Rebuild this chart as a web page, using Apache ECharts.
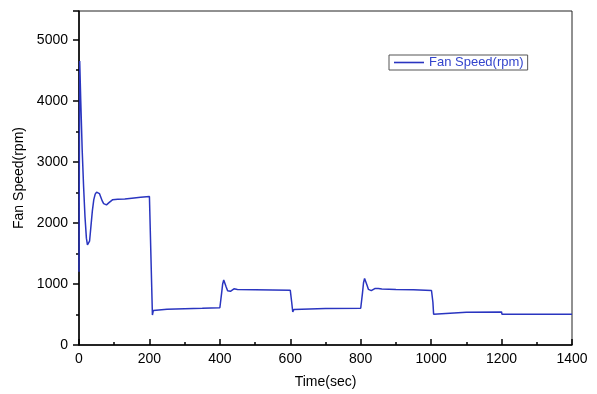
<!DOCTYPE html>
<html>
<head>
<meta charset="utf-8">
<script src="https://cdn.jsdelivr.net/npm/echarts@6/dist/echarts.min.js"></script>
<style>html,body{margin:0;padding:0;background:#fff;}#c{width:597px;height:394px;}</style>
</head>
<body>
<div id="c"></div>
<script>
var seriesName = 'Fan Speed(rpm)';
var xAxisTitle = 'Time(sec)';
var yAxisTitle = 'Fan Speed(rpm)';
var timeSec = [0,2,5,9,13,17,21,24,27,30,34,38,42,46,50,54,58,62,66,70,74,78,82,86,90,95,100,110,130,150,175,200,201,
  208.5,211,215,250,300,350,400,402,405,408,411,414,418,422,426,430,435,440,445,450,500,550,600,601,
  604,607,610,614,700,800,802,805,808,811,814,818,822,826,830,835,840,845,850,860,900,950,1001,1003,
  1005,1007,1010,1100,1200,1201,1400];
var fanSpeed = [1200,4650,4000,3200,2600,2100,1750,1640,1630,1700,1950,2200,2380,2470,2505,2510,2480,2420,2360,2315,2295,2295,2310,2335,2360,2378,2385,2388,2392,2405,2420,2432,2432,
  490,565,580,585,592,600,610,640,850,1000,1065,1040,950,890,875,880,905,920,918,910,905,900,895,890,
  700,540,580,592,597,602,630,850,1020,1090,1070,980,910,888,890,910,925,928,925,918,910,905,893,890,
  700,505,535,537,542,505,502];

var chart = echarts.init(document.getElementById('c'), null, {renderer:'canvas'});
var data = timeSec.map(function(t,i){return [t, fanSpeed[i]];});
var font = 'Liberation Sans, Arial, sans-serif';
function plain(v){return String(v);}
chart.setOption({
  animation:false,
  backgroundColor:'#fff',
  grid:{left:79,right:25,top:11,bottom:49,show:true,borderColor:'#222',borderWidth:1,backgroundColor:'transparent'},
  legend:{
    show:true,left:389,top:55,padding:[1,4,1,5],
    borderColor:'#555',borderWidth:1,borderRadius:0,
    icon:'rect',itemWidth:30,itemHeight:1.6,itemGap:4,
    itemStyle:{color:'#2a35c0',borderWidth:0},
    textStyle:{color:'#3344cc',fontSize:13,fontFamily:font,lineHeight:13},
    data:[seriesName]
  },
  xAxis:{
    type:'value',min:0,max:1400,interval:200,
    name:xAxisTitle,nameLocation:'middle',nameGap:30,
    nameTextStyle:{color:'#000',fontSize:14,fontFamily:font},
    axisLine:{show:true,lineStyle:{color:'#000',width:1.5}},
    axisTick:{show:true,inside:true,length:6,lineStyle:{color:'#000',width:1.5}},
    minorTick:{show:true,splitNumber:2,length:3,lineStyle:{color:'#000',width:1.5}},
    axisLabel:{color:'#000',fontSize:14,fontFamily:font,margin:7,formatter:plain},
    splitLine:{show:false}
  },
  yAxis:{
    type:'value',min:0,max:5470,interval:1000,
    name:yAxisTitle,nameLocation:'middle',nameGap:51,nameRotate:90,
    nameTextStyle:{color:'#000',fontSize:14,fontFamily:font},
    axisLine:{show:true,lineStyle:{color:'#000',width:1.5}},
    axisTick:{show:true,inside:false,length:6,lineStyle:{color:'#000',width:1.5}},
    minorTick:{show:true,splitNumber:2,length:3,lineStyle:{color:'#000',width:1.5}},
    axisLabel:{color:'#000',fontSize:14,fontFamily:font,margin:11,showMaxLabel:false,formatter:plain},
    splitLine:{show:false}
  },
  series:[{
    name:seriesName,type:'line',data:data,symbol:'none',showSymbol:false,
    lineStyle:{color:'#2a35c0',width:1.5},itemStyle:{color:'#2a35c0'}
  }]
});
</script>
</body>
</html>
